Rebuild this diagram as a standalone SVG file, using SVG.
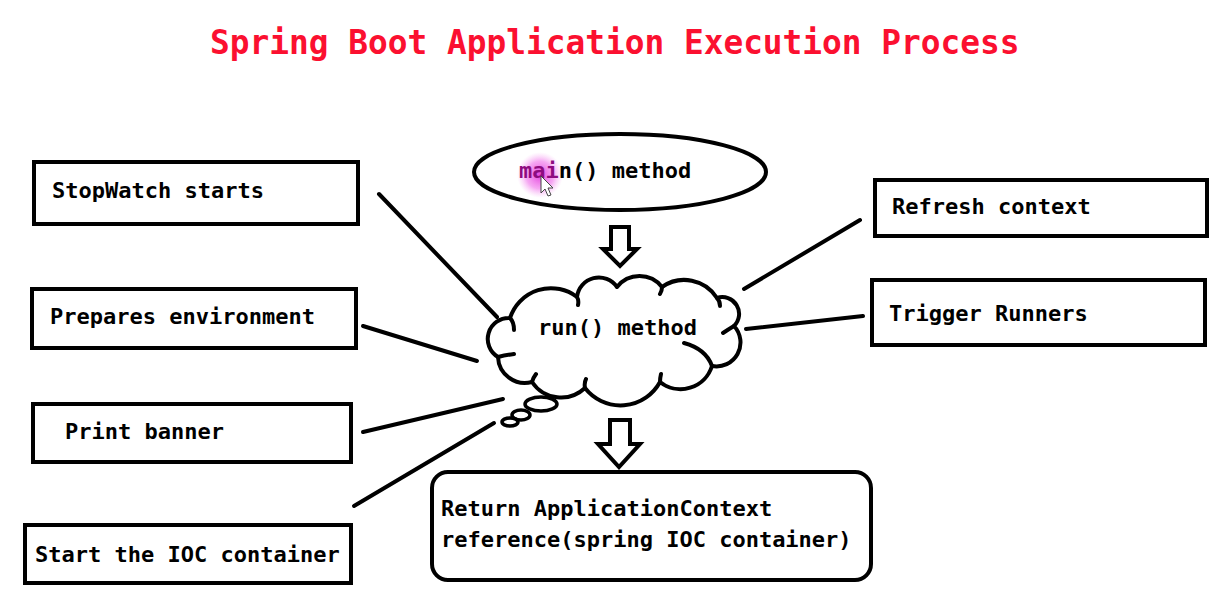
<svg xmlns="http://www.w3.org/2000/svg" width="1225" height="596" viewBox="0 0 1225 596">
  <defs>
    <radialGradient id="hl" cx="0.5" cy="0.5" r="0.5">
      <stop offset="0" stop-color="#e020d8" stop-opacity="0.85"/>
      <stop offset="0.6" stop-color="#ee60e8" stop-opacity="0.55"/>
      <stop offset="1" stop-color="#f6a0f2" stop-opacity="0"/>
    </radialGradient>
  </defs>
  <style>
    .box { fill: #ffffff; stroke: #000000; stroke-width: 4; }
    .lbl { font-family: "DejaVu Sans Mono", "Liberation Mono", monospace; font-weight: bold; font-size: 22px; fill: #000000; }
    .ln { stroke: #000000; stroke-width: 4; stroke-linecap: round; fill: none; }
    .cl { fill: #ffffff; stroke: #000000; stroke-width: 4; stroke-linejoin: round; }
    .hk { fill: none; stroke: #000000; stroke-width: 4; stroke-linecap: round; }
    .arr { fill: #ffffff; stroke: #000000; stroke-width: 4; stroke-linejoin: miter; }
  </style>
  <rect width="1225" height="596" fill="#ffffff"/>

  <text x="210" y="54" font-family="DejaVu Sans Mono, Liberation Mono, monospace" font-weight="bold" font-size="32.8" fill="#fb1030">Spring Boot Application Execution Process</text>

  <g id="connectors">
    <line class="ln" x1="379" y1="194" x2="497" y2="317"/>
    <line class="ln" x1="363" y1="326" x2="477" y2="361"/>
    <line class="ln" x1="363" y1="432" x2="503" y2="399"/>
    <line class="ln" x1="354" y1="506" x2="494" y2="423"/>
    <line class="ln" x1="744" y1="289" x2="860" y2="220"/>
    <line class="ln" x1="746" y1="329" x2="863" y2="316"/>
    <polygon class="arr" points="611,227 629,227 629,249 637,249 620,266 603,249 611,249"/>
    <polygon class="arr" points="610,420 630,420 630,444 640,444 619,467 598,444 610,444"/>
  </g>

  <g id="main">
    <ellipse cx="620" cy="172" rx="146" ry="38" fill="#ffffff" stroke="#000" stroke-width="4"/>
    <circle cx="540" cy="175" r="23" fill="url(#hl)"/>
    <text class="lbl" x="519" y="178"><tspan fill="#8e0c80">mai</tspan>n() method</text>
    <polygon points="541,176 541,193 545,189 548,196 551,195 548,188 553,188" fill="#ffffff" stroke="#444" stroke-width="1"/>
  </g>

  <g id="run">
    <path class="cl" d="M510 318 A43 43 0 0 1 577 297 A22 22 0 0 1 617 287 A28.5 28.5 0 0 1 662 287 A38.7 38.7 0 0 1 717 298 A16.8 16.8 0 0 1 734 326 A24 24 0 0 1 712 366 A33 33 0 0 1 660 382 A45 45 0 0 1 585 388 A35 35 0 0 1 532 382 A27 27 0 0 1 498 357 A21 21 0 0 1 510 318 Z"/>
    <path class="hk" d="M510 318 q4 4 4 12 M577 297 q2 3 1 8 M662 287 q0 4 -2 7 M717 298 q3 3 3 8 M734 326 q-5 3 -11 7 M684 343 q22 6 28 23 M660 382 q0 -4 1 -8 M585 388 q-1 -5 1 -9 M532 382 q1 -4 4 -8 M498 357 q8 -2 16 -3"/>
    <ellipse cx="541" cy="404" rx="16" ry="7" fill="#fff" stroke="#000" stroke-width="3.5"/>
    <ellipse cx="521" cy="415" rx="9" ry="5" fill="#fff" stroke="#000" stroke-width="3.5"/>
    <ellipse cx="510" cy="422" rx="8" ry="4" fill="#fff" stroke="#000" stroke-width="3.5"/>
    <text class="lbl" x="538" y="335">run() method</text>
  </g>

  <g id="stopwatch">
    <rect class="box" x="34" y="162" width="324" height="62"/>
    <text class="lbl" x="52" y="198">StopWatch starts</text>
  </g>
  <g id="prepares">
    <rect class="box" x="32" y="289" width="324" height="59"/>
    <text class="lbl" x="50" y="324">Prepares environment</text>
  </g>
  <g id="banner">
    <rect class="box" x="33" y="404" width="318" height="58"/>
    <text class="lbl" x="65" y="439">Print banner</text>
  </g>
  <g id="ioc">
    <rect class="box" x="25" y="525" width="326" height="58"/>
    <text class="lbl" x="35" y="562">Start the IOC container</text>
  </g>
  <g id="refresh">
    <rect class="box" x="875" y="180" width="332" height="56"/>
    <text class="lbl" x="892" y="214">Refresh context</text>
  </g>
  <g id="runners">
    <rect class="box" x="872" y="280" width="333" height="65"/>
    <text class="lbl" x="889" y="321">Trigger Runners</text>
  </g>
  <g id="return">
    <rect class="box" x="432" y="472" width="439" height="108" rx="16"/>
    <text class="lbl" x="441" y="516" font-size="21.6">Return ApplicationContext</text>
    <text class="lbl" x="441" y="547" font-size="21.6">reference(spring IOC container)</text>
  </g>
</svg>
